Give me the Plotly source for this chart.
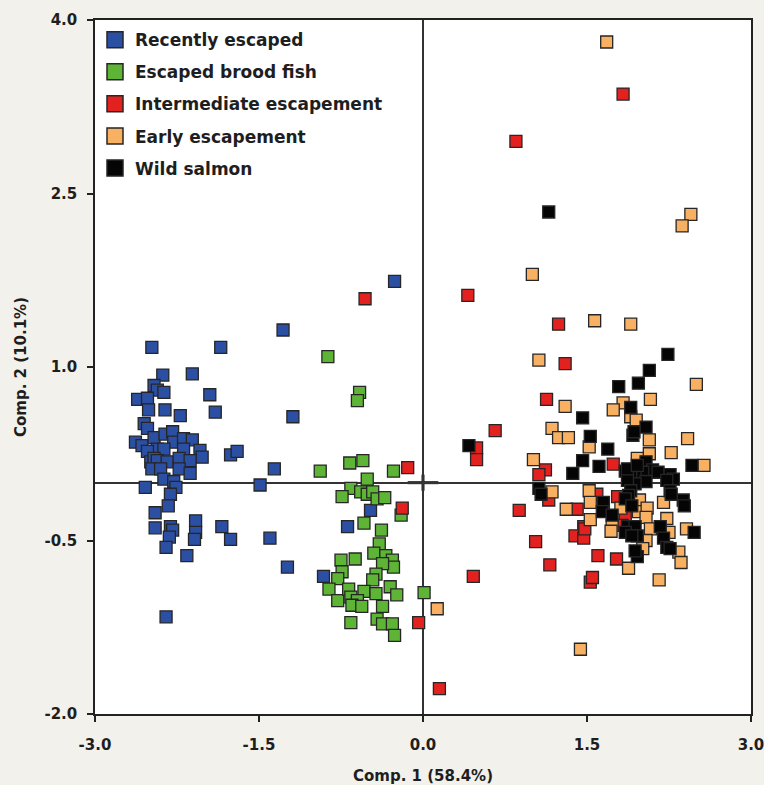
import plotly.graph_objects as go

# ---- data ----
series_names = ["Recently escaped", "Escaped brood fish", "Intermediate escapement",
                "Early escapement", "Wild salmon"]
series_colors = ["#2b4fa2", "#5db435", "#e3221f", "#f8b063", "#050505"]

recent_x = [-0.26, -1.28, -2.48, -1.85, -2.38, -2.11, -2.46, -2.43, -2.37, -2.61, -2.52, -2.51,
            -2.36, -2.22, -1.95, -1.90, -1.19, -2.55, -2.52, -2.63, -2.57, -2.46, -2.36, -2.29,
            -2.28, -2.19, -2.11, -2.43, -2.37, -2.19, -2.04, -2.02, -2.52, -2.49, -2.46, -2.43,
            -2.34, -2.23, -2.13, -2.48, -2.40, -2.23, -2.13, -2.37, -2.28, -2.26, -2.54, -2.31,
            -2.33, -1.76, -1.70, -1.36, -1.49, -2.45, -2.45, -2.31, -2.29, -2.32, -2.08, -2.08,
            -2.09, -1.84, -1.76, -1.40, -2.35, -2.16, -1.24, -2.35, -0.48, -0.69, -0.91]
recent_y = [1.74, 1.32, 1.17, 1.17, 0.93, 0.94, 0.84, 0.80, 0.78, 0.72, 0.73, 0.63,
            0.63, 0.58, 0.76, 0.61, 0.57, 0.51, 0.47, 0.35, 0.32, 0.39, 0.42, 0.44,
            0.35, 0.38, 0.37, 0.29, 0.29, 0.29, 0.28, 0.22, 0.27, 0.18, 0.21, 0.19,
            0.18, 0.21, 0.19, 0.12, 0.12, 0.12, 0.08, 0.03, 0.01, -0.04, -0.04, -0.10,
            -0.20, 0.24, 0.27, 0.12, -0.02, -0.26, -0.39, -0.38, -0.41, -0.47, -0.33, -0.43,
            -0.49, -0.38, -0.49, -0.48, -0.56, -0.63, -0.73, -1.16, -0.24, -0.38, -0.81]

brood_x = [-0.87, -0.58, -0.60, -0.94, -0.67, -0.55, -0.27, -0.51, -0.66, -0.74, -0.57, -0.51,
           -0.46, -0.42, -0.35, -0.20, -0.54, -0.38, -0.40, -0.45, -0.34, -0.28, -0.27, -0.37,
           -0.75, -0.62, -0.74, -0.43, -0.46, -0.78, -0.86, -0.78, -0.68, -0.66, -0.54, -0.43,
           -0.30, -0.24, -0.60, -0.65, -0.56, -0.37, -0.42, -0.37, -0.28, -0.26, -0.66, 0.01]
brood_y = [1.09, 0.78, 0.71, 0.10, 0.17, 0.19, 0.10, 0.03, -0.05, -0.12, -0.08, -0.10,
           -0.08, -0.14, -0.13, -0.28, -0.35, -0.41, -0.53, -0.61, -0.63, -0.67, -0.73, -0.70,
           -0.67, -0.66, -0.77, -0.79, -0.84, -0.83, -0.92, -1.02, -0.92, -0.99, -0.94, -0.96,
           -0.90, -0.97, -1.02, -1.06, -1.07, -1.07, -1.18, -1.22, -1.22, -1.32, -1.21, -0.95]

inter_x = [-0.53, -0.14, -0.19, -0.04, 0.15, 1.83, 0.85, 0.41, 1.24, 1.30, 1.13, 0.66,
           0.49, 0.49, 1.12, 1.06, 1.15, 1.41, 1.47, 1.39, 1.47, 0.88, 1.03, 1.16,
           1.60, 1.53, 1.55, 0.46, 1.74, 1.59, 1.78, 1.85, 1.48, 1.77, 1.82]
inter_y = [1.59, 0.13, -0.22, -1.21, -1.78, 3.36, 2.95, 1.62, 1.37, 1.03, 0.72, 0.45,
           0.30, 0.20, 0.11, 0.07, -0.15, -0.23, -0.38, -0.46, -0.48, -0.24, -0.51, -0.71,
           -0.63, -0.86, -0.82, -0.81, 0.16, -0.10, -0.12, -0.30, -0.40, -0.66, -0.37]

early_x = [0.13, 1.68, 2.45, 2.37, 1.00, 1.57, 1.06, 1.30, 1.18, 1.24, 1.33, 1.52,
           1.01, 1.18, 1.52, 1.53, 1.53, 1.31, 1.44, 1.90, 2.50, 2.08, 1.83, 1.74,
           1.90, 1.95, 2.07, 2.07, 2.27, 2.42, 1.96, 2.57, 1.98, 2.20, 1.81, 1.97,
           2.05, 2.04, 1.73, 1.72, 2.08, 2.04, 2.01, 2.23, 2.25, 2.41, 2.34, 2.36,
           1.88, 2.16]
early_y = [-1.09, 3.81, 2.32, 2.22, 1.80, 1.40, 1.06, 0.66, 0.47, 0.39, 0.39, 0.31,
           0.20, -0.08, -0.07, -0.17, -0.32, -0.23, -1.44, 1.37, 0.85, 0.72, 0.69, 0.63,
           0.57, 0.54, 0.37, 0.25, 0.26, 0.38, 0.21, 0.15, -0.15, -0.17, -0.22, -0.25,
           -0.22, -0.30, -0.37, -0.42, -0.40, -0.50, -0.57, -0.31, -0.43, -0.40, -0.60, -0.69,
           -0.74, -0.84]

wild_x = [1.15, 1.46, 1.53, 0.42, 1.46, 1.37, 1.61, 1.06, 1.08, 2.24, 2.07, 1.97,
          1.79, 1.90, 2.04, 1.92, 1.69, 2.04, 2.10, 2.01, 1.94, 1.85, 1.90, 2.46,
          2.15, 2.26, 2.29, 2.23, 2.04, 1.94, 1.87, 1.90, 1.88, 1.85, 2.26, 1.65,
          1.64, 1.73, 2.38, 2.39, 1.87, 1.94, 1.96, 1.85, 2.17, 2.20, 2.23, 2.48,
          2.26, 1.96, 1.93, 1.87, 1.96, 1.91, 2.27, 1.94, 1.91]
wild_y = [2.34, 0.56, 0.40, 0.32, 0.19, 0.08, 0.14, -0.05, -0.10, 1.11, 0.97, 0.86,
          0.83, 0.65, 0.48, 0.41, 0.29, 0.18, 0.11, 0.09, 0.09, 0.10, 0.06, 0.15,
          0.09, 0.07, 0.03, 0.02, 0.01, -0.01, 0.02, -0.07, -0.11, -0.14, -0.07, -0.17,
          -0.25, -0.28, -0.15, -0.20, -0.38, -0.38, -0.46, -0.43, -0.38, -0.48, -0.56, -0.43,
          -0.57, -0.64, 0.44, 0.12, 0.15, -0.20, -0.10, -0.59, -0.46]

x_ticks = [-3.0, -1.5, 0.0, 1.5, 3.0]
x_tick_labels = ["-3.0", "-1.5", "0.0", "1.5", "3.0"]
y_ticks = [-2.0, -0.5, 1.0, 2.5, 4.0]
y_tick_labels = ["-2.0", "-0.5", "1.0", "2.5", "4.0"]

series_x = [recent_x, brood_x, inter_x, early_x, wild_x]
series_y = [recent_y, brood_y, inter_y, early_y, wild_y]

FONT = "DejaVu Sans, Verdana, sans-serif"
TXT = "#1e1e1e"
EDGE = "#262626"

fig = go.Figure()
for i, name in enumerate(series_names):
    fig.add_trace(go.Scatter(
        x=series_x[i], y=series_y[i], mode="markers", name=name,
        legendgroup=name, showlegend=False,
        marker=dict(symbol="square", size=12, color=series_colors[i],
                    line=dict(color=EDGE, width=1.3)),
    ))
# legend entries (larger symbols, tied to the data traces by legendgroup)
for i, name in enumerate(series_names):
    fig.add_trace(go.Scatter(
        x=[None], y=[None], mode="markers", name=name,
        legendgroup=name, showlegend=True,
        marker=dict(symbol="square", size=16, color=series_colors[i],
                    line=dict(color=EDGE, width=1.5)),
    ))

# small cross at the origin
fig.add_shape(type="line", x0=-0.14, x1=0.14, y0=0, y1=0, xref="x", yref="y",
              line=dict(color="#1a1a1a", width=3), layer="below")
fig.add_shape(type="line", x0=0, x1=0, y0=-0.07, y1=0.07, xref="x", yref="y",
              line=dict(color="#1a1a1a", width=3), layer="below")

axis_common = dict(
    showgrid=False, zeroline=True, zerolinecolor="#333333", zerolinewidth=1.5,
    showline=True, linecolor="#222222", linewidth=1.5, mirror=True,
    ticks="outside", ticklen=6, tickwidth=1.5, tickcolor="#222222",
    tickfont=dict(family=FONT, size=15, color=TXT, weight="bold"),
    automargin=False, ticklabeloverflow="allow",
)

fig.update_layout(
    width=764, height=785,
    margin=dict(l=95, r=13, t=20, b=71, autoexpand=False),
    paper_bgcolor="#f2f1ec", plot_bgcolor="#ffffff",
    font=dict(family=FONT, color=TXT),
    showlegend=True,
    legend=dict(
        x=0.0, y=0.997, xanchor="left", yanchor="top",
        bgcolor="rgba(255,255,255,0)", borderwidth=0,
        font=dict(family=FONT, size=17, color=TXT, weight="bold"),
        traceorder="grouped", tracegroupgap=7,
    ),
    xaxis=dict(axis_common, range=[-3, 3], tickvals=x_ticks, ticktext=x_tick_labels,
               ticklabelstandoff=10,
               title=dict(text="Comp. 1 (58.4%)", standoff=23,
                          font=dict(family=FONT, size=15, color=TXT, weight="bold"))),
    yaxis=dict(axis_common, range=[-2, 4], tickvals=y_ticks, ticktext=y_tick_labels,
               ticklabelstandoff=7,
               title=dict(text="Comp. 2 (10.1%)", standoff=14,
                          font=dict(family=FONT, size=15, color=TXT, weight="bold"))),
)

fig.write_html(
    "out.html",
    config={"displayModeBar": False},
    post_script="document.body.style.margin='0px';"
                "document.body.style.backgroundColor='#f2f1ec';",
)
